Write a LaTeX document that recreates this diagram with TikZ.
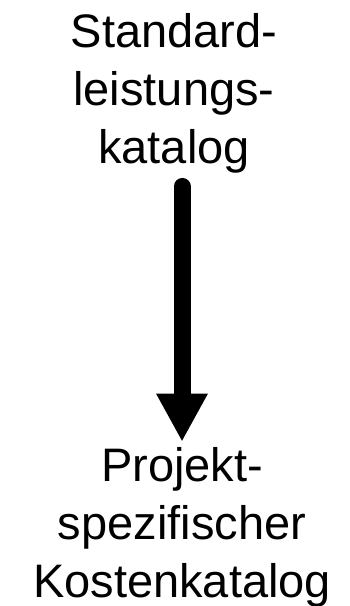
\documentclass[tikz,border=0pt]{standalone}
\usepackage{fontspec}
\setmainfont{Liberation Sans}
\usepackage{tikz}
\usetikzlibrary{arrows.meta}

\tikzset{katalog/.style={align=center, inner sep=0pt, font=\fontsize{47}{58}\selectfont}}

\begin{document}
\begin{tikzpicture}[x=1pt, y=-1pt]
\useasboundingbox (0,0) rectangle (350,606);
\node[katalog, anchor=base] (slk) at (174,163) {Standard-\\leistungs-\\katalog};
\node[katalog, anchor=base] (pkk) at (182,597) {Projekt-\\spezifischer\\Kostenkatalog};
\draw[line width=17pt, line cap=round, -{Triangle[width=48pt, length=48pt]}, shorten <=13.5pt, shorten >=5pt] (slk.south -| pkk.north) -- (pkk.north);
\end{tikzpicture}
\end{document}
